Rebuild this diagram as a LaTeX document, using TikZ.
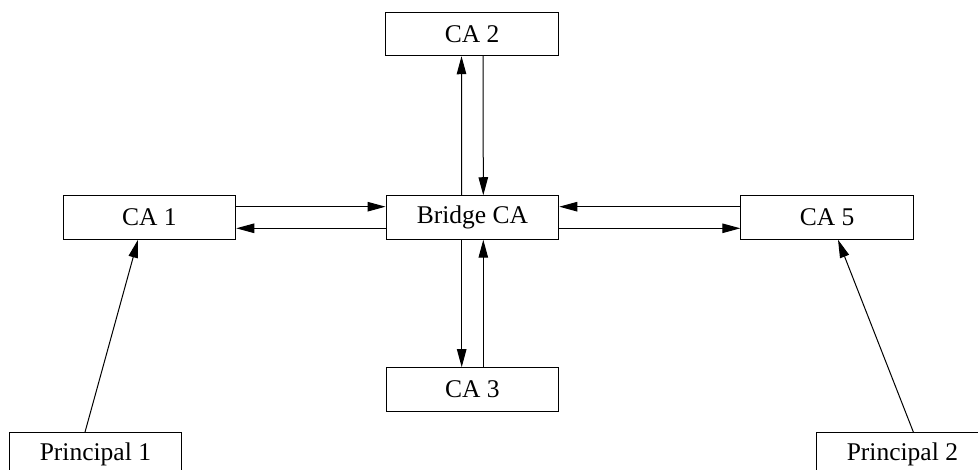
\documentclass[tikz,border=0pt]{standalone}
\usepackage{fontspec}
\setmainfont{Liberation Serif}
\usetikzlibrary{arrows.meta}
\begin{document}
\begin{tikzpicture}[x=1pt,y=-1pt,
  cabox/.style={draw=black, line width=1pt, minimum width=172.7pt, minimum height=43.5pt,
    inner sep=0pt, font=\fontsize{25.5}{30}\selectfont},
  link/.style={line width=1pt, -{Triangle[length=18pt,width=9.5pt]}}]
  \useasboundingbox (0,0) rectangle (978,470);

  % certification authorities
  \node[cabox] (ca2) at (472.2,34) {CA 2};
  \node[cabox] (ca1) at (149.4,217.5) {CA 1};
  \node[cabox] (bridge) at (472.4,217.5) {Bridge CA};
  \node[cabox] (ca5) at (827.2,217.5) {CA 5};
  \node[cabox] (ca3) at (472.4,389.4) {CA 3};

  % end principals
  \node[cabox] (p1) at (95.4,454.4) {Principal 1};
  \node[cabox] (p2) at (902.4,454.4) {Principal 2};

  % bridge <-> CA 2
  \draw[link] ([xshift=-10.7pt]bridge.north) -- ([xshift=-10.7pt]ca2.south);
  \draw[link] ([xshift=10.9pt]ca2.south) -- ([xshift=10.9pt]bridge.north);

  % bridge <-> CA 3
  \draw[link] ([xshift=-10.7pt]bridge.south) -- ([xshift=-10.7pt]ca3.north);
  \draw[link] ([xshift=10.9pt]ca3.north) -- ([xshift=10.9pt]bridge.south);

  % bridge <-> CA 1
  \draw[link] ([yshift=10.8pt]ca1.east) -- ([yshift=10.8pt]bridge.west);
  \draw[link] ([yshift=-10.8pt]bridge.west) -- ([yshift=-10.8pt]ca1.east);

  % bridge <-> CA 5
  \draw[link] ([yshift=10.8pt]ca5.west) -- ([yshift=10.8pt]bridge.east);
  \draw[link] ([yshift=-10.8pt]bridge.east) -- ([yshift=-10.8pt]ca5.west);

  % principals trust their own CA
  \draw[link] ([xshift=-10.4pt]p1.north) -- ([xshift=-11.4pt]ca1.south);
  \draw[link] ([xshift=11pt]p2.north) -- ([xshift=10.8pt]ca5.south);
\end{tikzpicture}
\end{document}
